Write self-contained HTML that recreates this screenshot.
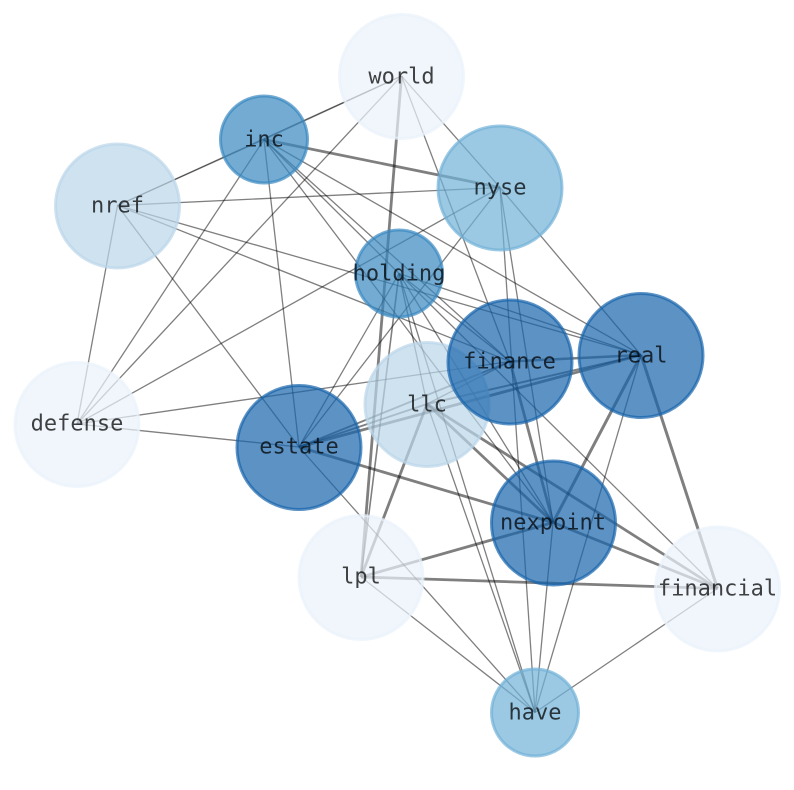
<!DOCTYPE html>
<html><head><meta charset="utf-8"><style>
html,body{margin:0;padding:0;background:#fff}
svg{display:block}
text{font-family:"DejaVu Sans Mono","Liberation Mono",monospace;font-size:22px;text-anchor:middle;fill:#000;fill-opacity:.74}
</style></head><body>
<svg width="794" height="790" viewBox="0 0 794 790" xmlns="http://www.w3.org/2000/svg">
<g stroke="#000" stroke-opacity=".5" stroke-width="1.3" fill="none">
<!-- thin -->
<path d="M117.5 205.5L264 139.5" stroke-opacity=".4"/><path d="M264 139.5L401.5 76" stroke-opacity=".4"/><path d="M117.5 205.5L401.5 76"/>
<path d="M117.5 205.5L500 187.5"/><path d="M117.5 205.5L77 424"/><path d="M117.5 205.5L299 447"/>
<path d="M117.5 205.5L510 361.5"/><path d="M117.5 205.5L641 355"/>
<path d="M401.5 76L77 424"/><path d="M401.5 76L500 187.5"/><path d="M401.5 76L510 361.5"/>
<path d="M264 139.5L77 424"/><path d="M264 139.5L299 447"/><path d="M264 139.5L399 273.5"/>
<path d="M264 139.5L510 361.5"/><path d="M264 139.5L553 522.5"/><path d="M264 139.5L641 355"/>
<path d="M500 187.5L77 424"/><path d="M500 187.5L299 447"/>
<path d="M500 187.5L535 712.5"/><path d="M500 187.5L553 522.5"/><path d="M500 187.5L641 355"/>
<path d="M77 424L510 361.5"/><path d="M77 424L299 447"/>
<path d="M399 273.5L299 447"/><path d="M399 273.5L427 404"/><path d="M399 273.5L510 361.5"/>
<path d="M399 273.5L641 355"/><path d="M399 273.5L553 522.5"/><path d="M399 273.5L717.5 588.5"/>
<path d="M399 273.5L535 712.5"/><path d="M399 273.5L361 577" stroke-width="1.6"/>
<path d="M427 404L535 712.5"/><path d="M427 404L510 361.5"/>
<path d="M299 447L535 712.5"/><path d="M361 577L535 712.5"/>
<path d="M553 522.5L535 712.5"/><path d="M641 355L535 712.5"/><path d="M717.5 588.5L535 712.5"/>
<path d="M299 447L510 361.5" stroke-width="1.8"/>
<path d="M299 447L427 404" stroke-width="1.8"/>
<!-- thick -->
<path d="M264 139.5L500 187.5" stroke-width="2.8"/>
<path d="M401.5 76L361 577" stroke-width="2.8"/>
<path d="M299 447L641 355" stroke-width="2.8"/>
<path d="M427 404L641 355" stroke-width="2"/>
<path d="M510 361.5L641 355" stroke-width="2.4"/>
<path d="M299 447L553 522.5" stroke-width="2.8"/>
<path d="M427 404L361 577" stroke-width="2.8"/>
<path d="M427 404L553 522.5" stroke-width="2.8"/>
<path d="M427 404L717.5 588.5" stroke-width="2.8"/>
<path d="M510 361.5L553 522.5" stroke-width="2.8"/>
<path d="M641 355L553 522.5" stroke-width="3"/>
<path d="M641 355L717.5 588.5" stroke-width="3"/>
<path d="M553 522.5L717.5 588.5" stroke-width="2.8"/>
<path d="M361 577L553 522.5" stroke-width="2.8"/>
<path d="M361 577L717.5 588.5" stroke-width="2.8"/>
</g>
<g stroke-width="3" fill-opacity=".7" stroke-opacity=".7">
<circle cx="401.5" cy="76.5" r="62" fill="#eaf2fb" stroke="#eaf2fb"/>
<circle cx="361" cy="577.5" r="62" fill="#eaf2fb" stroke="#eaf2fb"/>
<circle cx="717.5" cy="589" r="62" fill="#eaf2fb" stroke="#eaf2fb"/>
<circle cx="77" cy="424.5" r="62" fill="#eaf2fb" stroke="#eaf2fb"/>
<circle cx="117.5" cy="206" r="62" fill="#bbd6e9" stroke="#bbd6e9"/>
<circle cx="427" cy="404.5" r="62" fill="#bbd6e9" stroke="#bbd6e9"/>
<circle cx="500" cy="188" r="62" fill="#71b1d7" stroke="#71b1d7"/>
<circle cx="535" cy="712.5" r="43.5" fill="#71b1d7" stroke="#71b1d7"/>
<circle cx="264" cy="139.5" r="43.5" fill="#3787c0" stroke="#3787c0"/>
<circle cx="399" cy="273.5" r="43.5" fill="#3787c0" stroke="#3787c0"/>
<circle cx="510" cy="362" r="62" fill="#1764ab" stroke="#1764ab"/>
<circle cx="641" cy="355.5" r="62" fill="#1764ab" stroke="#1764ab"/>
<circle cx="299" cy="447.5" r="62" fill="#1764ab" stroke="#1764ab"/>
<circle cx="553.5" cy="523" r="62" fill="#1764ab" stroke="#1764ab"/>
</g>
<text x="401.5" y="83.5">world</text>
<text x="264" y="146.5">inc</text>
<text x="500" y="194.5">nyse</text>
<text x="117.5" y="212.5">nref</text>
<text x="399" y="280.5">holding</text>
<text x="509.5" y="368.5">finance</text>
<text x="641" y="362.5">real</text>
<text x="427" y="411.5">llc</text>
<text x="77" y="430.5">defense</text>
<text x="299" y="453.5">estate</text>
<text x="553" y="529.5">nexpoint</text>
<text x="361" y="583.5">lpl</text>
<text x="717.5" y="595.5">financial</text>
<text x="535" y="719.5">have</text>
</svg>
</body></html>
